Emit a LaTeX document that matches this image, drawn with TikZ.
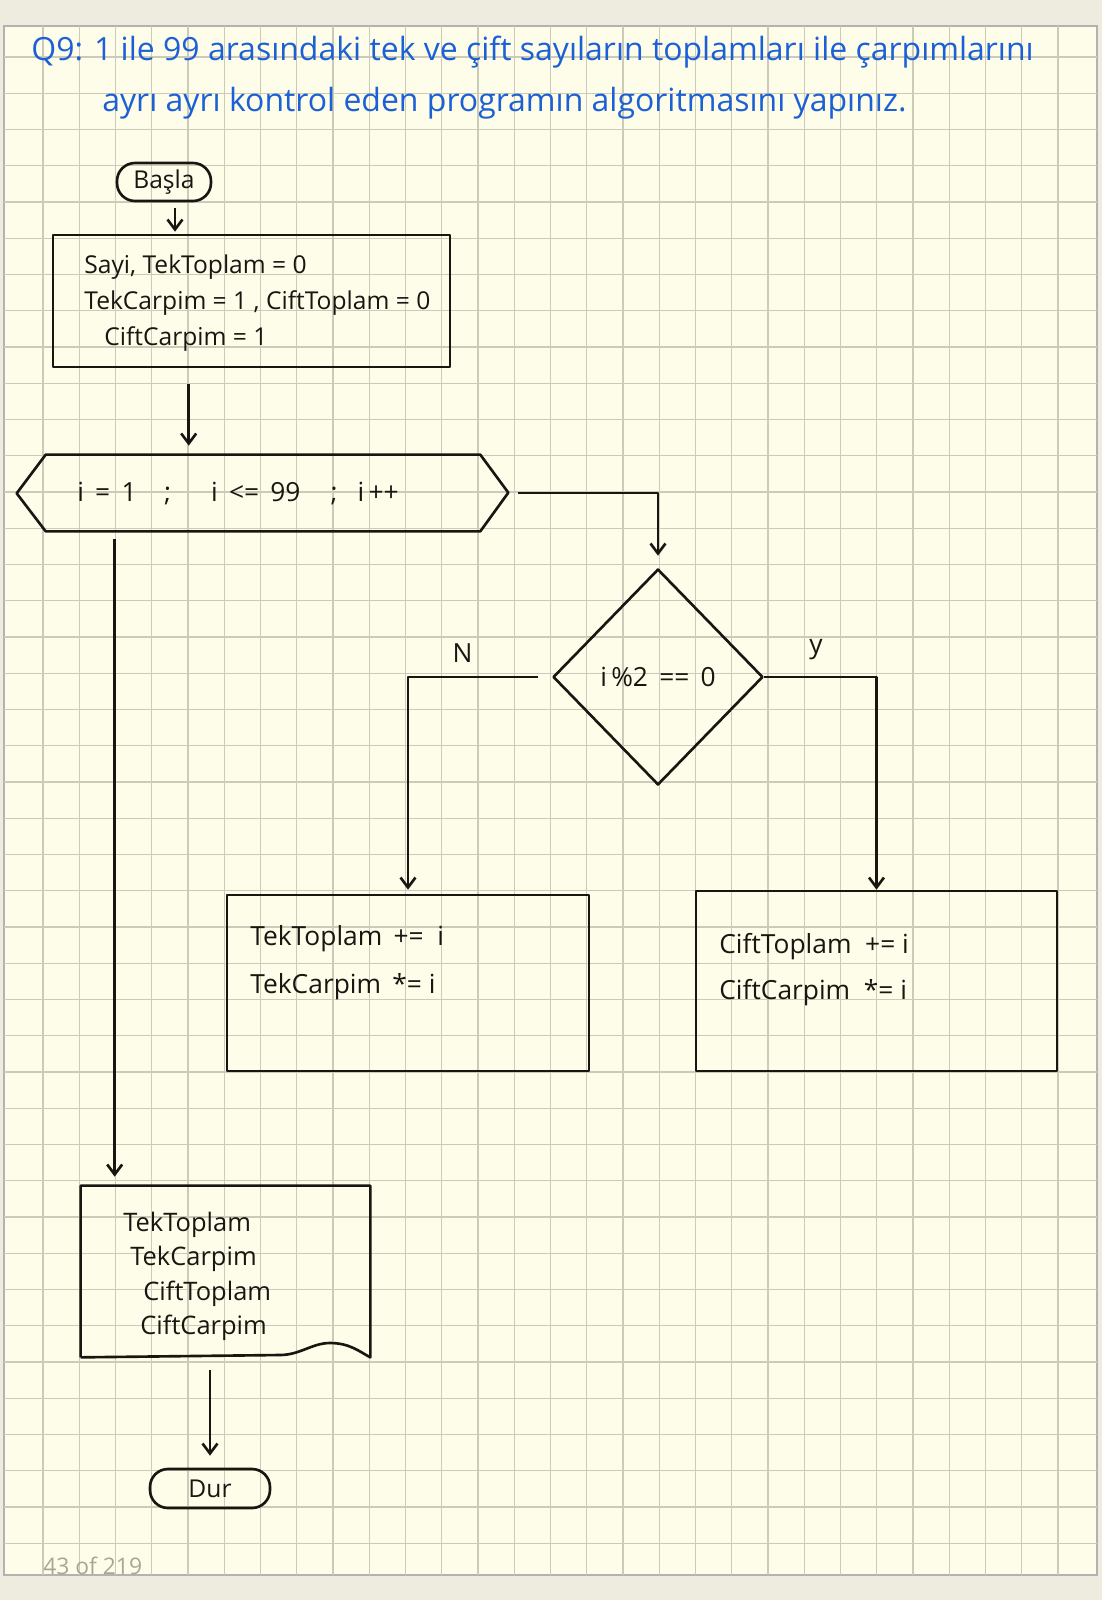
\documentclass[tikz,border=0pt]{standalone}
\usepackage{fontspec}
\setmainfont{Open Sans}
\usepackage{tikz}
\usetikzlibrary{positioning, shapes.geometric, arrows.meta}
\definecolor{paperColor}{RGB}{254,253,234}
\definecolor{deskColor}{RGB}{237,236,223}
\definecolor{gridColor}{RGB}{204,202,184}
\definecolor{inkBlue}{RGB}{28,96,214}
\definecolor{inkBlack}{RGB}{25,22,18}
\definecolor{pageNumColor}{RGB}{168,167,150}
\tikzstyle{sheet} = [x = 0.02cm, y = -0.02cm]
\tikzstyle{gridLine} = [color=gridColor, line width=0.7pt]
\tikzstyle{ink} = [color=inkBlack, line width=1.5pt, line join=round]
\tikzstyle{flowBox} = [ink, draw, rectangle, inner sep=0pt]
\tikzstyle{shapeArea} = [rectangle, inner sep=0pt]
\tikzstyle{terminal} = [flowBox, rounded corners=0.36cm]
\tikzstyle{flowText} = [text=inkBlack, font=\fontsize{14}{20.5}\selectfont, inner sep=0pt, align=left]
\tikzstyle{bigText} = [flowText, font=\fontsize{15}{20.5}\selectfont]
\tikzstyle{flowArrow} = [ink, -{Straight Barb[length=0.2cm, width=0.3cm]}]
\tikzstyle{titleText} = [text=inkBlue, font=\fontsize{18.2}{22}\selectfont, inner sep=0pt]
\newcommand{\gridColumns}{28}
\newcommand{\gridRows}{41}

\begin{document}
\begin{tikzpicture}[sheet]
  \useasboundingbox (0,0) rectangle (1102,1600);
  \fill [deskColor] (0,0) rectangle (1102,1600);
  \filldraw [fill=paperColor, draw=gray!60, line width=0.8pt] (4,26) rectangle (1097,1575);
  \foreach \col in {0,...,\gridColumns} {
    \draw [gridLine] ({43 + 36.25 * \col}, 26) -- ({43 + 36.25 * \col}, 1575);
  }
  \foreach \row in {0,...,\gridRows} {
    \draw [gridLine] (4, {57 + 36.25 * \row}) -- (1097, {57 + 36.25 * \row});
  }

  % question
  \node [titleText, anchor=west] (titleA) at (31, 52) {Q9: 1 ile 99 arasındaki tek ve çift sayıların toplamları ile çarpımlarını};
  \node [titleText, anchor=west] (titleB) at (102, 103) {ayrı ayrı kontrol eden programın algoritmasını yapınız.};

  % flow chart
  \node [terminal, minimum width=1.88cm, minimum height=0.76cm, flowText] (basla) at (164, 182) {Başla};
  \node [flowBox, minimum width=7.94cm, minimum height=2.64cm] (init) at (251.5, 301) {};
  \node [flowText, anchor=north west] (initText) at (84, 254) {Sayi, TekToplam = 0\\TekCarpim = 1 , CiftToplam = 0\\\hspace{0.4cm}CiftCarpim = 1};

  \node [shapeArea, minimum width=8.68cm, minimum height=1.52cm] (loop) at (263, 493) {};
  \draw [ink] (loop.north west) -- (loop.north east) -- ++(28,38) -- (loop.south east) -- (loop.south west) -- ++(-29,-38) -- cycle;
  \node [bigText, anchor=west] (loopText) at (77, 494) {i\, =\, 1\hspace{0.55cm};\hspace{0.8cm}i\, <=\, 99\hspace{0.6cm};\hspace{0.4cm}i\,++};

  \node [ink, draw, diamond, minimum width=4.2cm, minimum height=4.32cm, inner sep=0pt, bigText] (dec) at (658, 677) {i\,\%2\, ==\, 0};

  \node [flowBox, minimum width=7.24cm, minimum height=3.52cm] (tek) at (408, 983) {};
  \node [bigText, anchor=north west] (tekText) at (250, 925) {TekToplam\, +=\ \ i\\[0.25cm]TekCarpim\, *=\ i};

  \node [flowBox, minimum width=7.22cm, minimum height=3.6cm] (cift) at (876.5, 981) {};
  \node [bigText, anchor=north west] (ciftText) at (719, 933) {CiftToplam\ \ +=\ i\\[0.2cm]CiftCarpim\ \ *=\ i};

  \node [shapeArea, minimum width=5.78cm, minimum height=3.42cm] (result) at (225.5, 1271.5) {};
  \draw [ink] (result.south west) -- (result.north west) -- (result.north east) -- (result.south east)
    .. controls (360,1352) and (350,1343) .. (330,1343)
    .. controls (312,1343) and (300,1355) .. (280,1355) -- (result.south west);
  \node [flowText, anchor=north west, font=\fontsize{14.5}{19.5}\selectfont] (resultText) at (123, 1212) {TekToplam\\\hspace{0.14cm}TekCarpim\\\hspace{0.4cm}CiftToplam\\\hspace{0.34cm}CiftCarpim};

  \node [terminal, minimum width=2.4cm, minimum height=0.78cm, flowText] (dur) at (210, 1488.5) {Dur};

  % connectors
  \coordinate (baslaOut) at ([xshift=0.22cm]basla.south);
  \draw [flowArrow, shorten <=0.12cm, shorten >=0.04cm] (baslaOut) -- (baslaOut |- init.north);
  \coordinate (initOut) at ([xshift=2.74cm]init.south west);
  \draw [flowArrow, shorten <=0.32cm, shorten >=0.18cm] (initOut) -- (initOut |- loop.north);
  \coordinate (loopRight) at ([xshift=0.76cm]loop.east);
  \draw [flowArrow, shorten >=0.24cm] (loopRight) -| (dec.north);
  \coordinate (decLeft) at ([xshift=-0.28cm]dec.west);
  \draw [flowArrow, shorten >=0.08cm] (decLeft) -| node [pos=0.29, yshift=0.48cm, bigText] (noLabel) {N} (tek.north);
  \draw [flowArrow] (dec.east) -| node [pos=0.23, yshift=0.54cm, bigText] (yesLabel) {y} (cift.north);
  \coordinate (loopDown) at ([xshift=1.38cm]loop.south west);
  \draw [flowArrow, shorten <=0.16cm, shorten >=0.18cm] (loopDown) -- (loopDown |- result.north);
  \draw [flowArrow, shorten <=0.26cm, shorten >=0.24cm] (dur.north |- result.south) -- (dur.north);

  % page counter
  \node [anchor=south west, inner sep=0pt, text=pageNumColor, font=\fontsize{13}{15}\selectfont] (pageNum) at (43, 1575) {43 of 219};
\end{tikzpicture}
\end{document}
